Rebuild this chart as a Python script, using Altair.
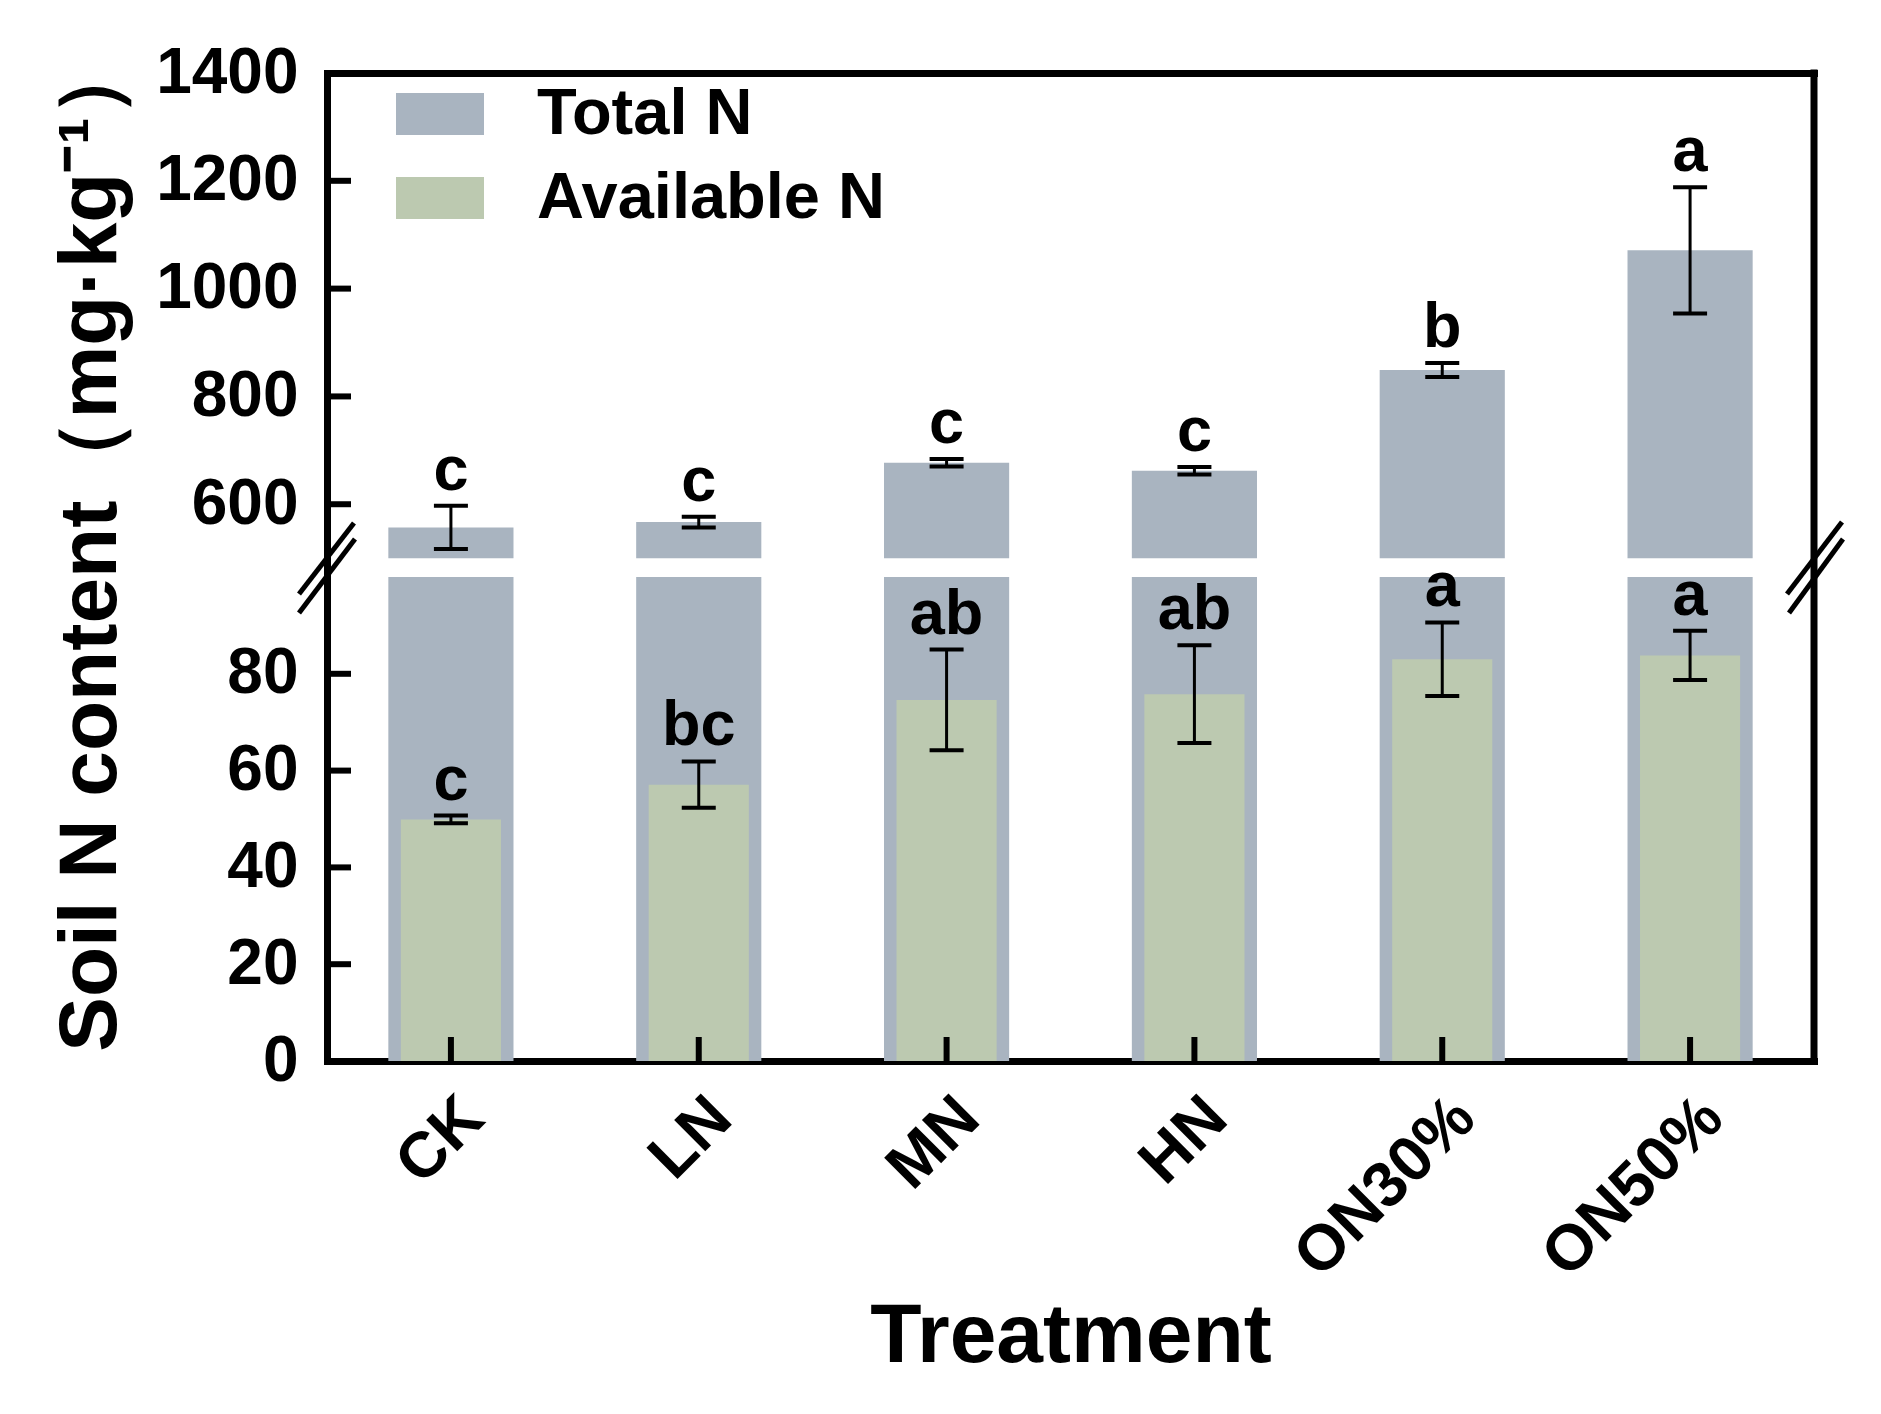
import altair as alt
import pandas as pd

# ---------------- data ----------------
treatments = ["CK", "LN", "MN", "HN", "ON30%", "ON50%"]
total_n = [557, 567, 677, 662, 849, 1071]
total_err = [40, 10, 7, 7, 13, 117]
total_letters = ["c", "c", "c", "c", "b", "a"]
avail_n = [49.9, 57.1, 74.6, 75.8, 83.0, 83.8]
avail_err = [0.8, 4.8, 10.4, 10.1, 7.6, 5.1]
avail_letters = ["c", "bc", "ab", "ab", "a", "a"]
upper_ticks = [600, 800, 1000, 1200, 1400]
lower_ticks = [0, 20, 40, 60, 80]
series = ["Total N", "Available N"]
colors = ["#A9B4C0", "#BCC9B0"]

df = pd.DataFrame({
    "treatment": treatments,
    "total": total_n,
    "total_lo": [v - e for v, e in zip(total_n, total_err)],
    "total_hi": [v + e for v, e in zip(total_n, total_err)],
    "total_letter": total_letters,
    "avail": avail_n,
    "avail_lo": [v - e for v, e in zip(avail_n, avail_err)],
    "avail_hi": [v + e for v, e in zip(avail_n, avail_err)],
    "avail_letter": avail_letters,
    "series": ["Total N"] * len(treatments),
})
up_ticks_df = pd.DataFrame({"v": upper_ticks})
lo_ticks_df = pd.DataFrame({"v": lower_ticks})

# ---------------- layout constants ----------------
W = 1487
HU = 504
HL = 484
FONT = "Liberation Sans, Arial, Helvetica, sans-serif"
FRAME = 7
TICKLEN = 24

xscale = alt.Scale(domain=treatments, paddingInner=0, paddingOuter=0)
yu_scale = alt.Scale(domain=[465, 1400], nice=False, zero=False)
yl_scale = alt.Scale(domain=[0, 100], nice=False)

one = alt.Data(values=[{}])


def xs():
    return alt.X("treatment:N", scale=xscale, sort=treatments)


# ---------------- upper panel ----------------
base_u = alt.Chart(df)

x_top = alt.X("treatment:N", scale=xscale, sort=treatments,
              axis=alt.Axis(orient="top", labels=False, ticks=False, title=None,
                            domainWidth=FRAME, domainColor="black", domainCap="square",
                            grid=False))

upper_bars = base_u.mark_bar(width=alt.RelativeBandSize(0.505)).encode(
    x=x_top,
    y=alt.Y("total:Q", scale=yu_scale,
            axis=alt.Axis(values=upper_ticks, format="d", ticks=False, grid=False,
                          domainWidth=FRAME, domainColor="black", domainCap="square",
                          labelFontSize=64, labelFont=FONT, labelFontWeight="bold",
                          labelColor="black", labelPadding=29,
                          title="Soil N content（mg·kg⁻¹）",
                          titleFontSize=82, titleFont=FONT, titleFontWeight="bold",
                          titleColor="black", titleAngle=270, titleAlign="center",
                          titleBaseline="alphabetic", titleX=-212, titleY=470)),
    y2=alt.datum(500),
    color=alt.Color("series:N",
                    scale=alt.Scale(domain=series, range=colors),
                    legend=alt.Legend(orient="none", legendX=69, legendY=-3,
                                      title=None, padding=0,
                                      symbolType="M-1,-0.477H1V0.477H-1Z",
                                      symbolSize=7744, symbolStrokeWidth=0,
                                      symbolOpacity=1,
                                      labelFontSize=65, labelFont=FONT,
                                      labelFontWeight="bold", labelColor="black",
                                      labelOffset=53, rowPadding=7, labelLimit=0)),
)

upper_err = base_u.mark_rule(strokeWidth=3, color="black").encode(
    x=xs(), y=alt.Y("total_lo:Q", scale=yu_scale), y2="total_hi:Q",
)
upper_cap_hi = base_u.mark_tick(thickness=4, size=34, color="black", opacity=1).encode(
    x=xs(), y=alt.Y("total_hi:Q", scale=yu_scale),
)
upper_cap_lo = base_u.mark_tick(thickness=4, size=34, color="black", opacity=1).encode(
    x=xs(), y=alt.Y("total_lo:Q", scale=yu_scale),
)
upper_text = base_u.mark_text(fontSize=63, font=FONT, fontWeight="bold", color="black",
                              baseline="alphabetic", dy=-16).encode(
    x=xs(), y=alt.Y("total_hi:Q", scale=yu_scale), text="total_letter:N",
)
upper_yticks = alt.Chart(up_ticks_df).mark_rule(strokeWidth=6, color="black").encode(
    y=alt.Y("v:Q", scale=yu_scale),
    x=alt.value(0), x2=alt.value(TICKLEN),
)
upper_right = alt.Chart(one).mark_rule(strokeWidth=FRAME, color="black").encode(
    x=alt.value(W), y=alt.value(-FRAME / 2), y2=alt.value(HU),
)

upper = alt.layer(upper_bars, upper_err, upper_cap_hi, upper_cap_lo, upper_text,
                  upper_yticks, upper_right).properties(width=W, height=HU)

# ---------------- lower panel ----------------
base_l = alt.Chart(df)

x_bot = alt.X("treatment:N", scale=xscale, sort=treatments,
              axis=alt.Axis(orient="bottom", ticks=False, grid=False,
                            domainWidth=FRAME, domainColor="black", domainCap="square",
                            labelAngle=315, labelAlign="right", labelBaseline="top",
                            labelPadding=24, labelFontSize=64, labelFont=FONT,
                            labelFontWeight="bold", labelColor="black", labelLimit=0,
                            title="Treatment", titleFontSize=84, titleFont=FONT,
                            titleFontWeight="bold", titleColor="black",
                            titlePadding=34))

lower_grey = base_l.mark_bar(width=alt.RelativeBandSize(0.505), clip=True,
                             color=colors[0]).encode(
    x=x_bot,
    y=alt.Y("total:Q", scale=yl_scale,
            axis=alt.Axis(values=lower_ticks, format="d", ticks=False, grid=False,
                          domainWidth=FRAME, domainColor="black", domainCap="square",
                          labelFontSize=64, labelFont=FONT, labelFontWeight="bold",
                          labelColor="black", labelPadding=29, title=None)),
)
lower_green = base_l.mark_bar(width=alt.RelativeBandSize(0.404), color=colors[1]).encode(
    x=xs(), y=alt.Y("avail:Q", scale=yl_scale),
)
lower_err = base_l.mark_rule(strokeWidth=3, color="black").encode(
    x=xs(), y=alt.Y("avail_lo:Q", scale=yl_scale), y2="avail_hi:Q",
)
lower_cap_hi = base_l.mark_tick(thickness=4, size=34, color="black", opacity=1).encode(
    x=xs(), y=alt.Y("avail_hi:Q", scale=yl_scale),
)
lower_cap_lo = base_l.mark_tick(thickness=4, size=34, color="black", opacity=1).encode(
    x=xs(), y=alt.Y("avail_lo:Q", scale=yl_scale),
)
lower_text = base_l.mark_text(fontSize=63, font=FONT, fontWeight="bold", color="black",
                              baseline="alphabetic", dy=-16).encode(
    x=xs(), y=alt.Y("avail_hi:Q", scale=yl_scale), text="avail_letter:N",
)
lower_yticks = alt.Chart(lo_ticks_df).mark_rule(strokeWidth=6, color="black").encode(
    y=alt.Y("v:Q", scale=yl_scale),
    x=alt.value(0), x2=alt.value(TICKLEN),
)
lower_xticks = base_l.mark_rule(strokeWidth=6, color="black").encode(
    x=xs(), y=alt.value(HL), y2=alt.value(HL - TICKLEN),
)
lower_right = alt.Chart(one).mark_rule(strokeWidth=FRAME, color="black").encode(
    x=alt.value(W), y=alt.value(0), y2=alt.value(HL + FRAME / 2),
)


# axis-break marks (double slashes) on left and right frame lines
def slash(x1, y1, x2, y2):
    return alt.Chart(one).mark_rule(strokeWidth=5, color="black").encode(
        x=alt.value(x1), y=alt.value(y1), x2=alt.value(x2), y2=alt.value(y2))


breaks = [
    slash(-28, 17, 27, -54), slash(-28, 36, 28, -38),
    slash(W - 27, 17, W + 28, -55), slash(W - 25, 36, W + 29, -38),
]

lower = alt.layer(lower_grey, lower_green, lower_err, lower_cap_hi, lower_cap_lo,
                  lower_text, lower_yticks, lower_xticks, lower_right,
                  *breaks).properties(width=W, height=HL)

chart = alt.vconcat(upper, lower, spacing=0, bounds="flush").resolve_scale(
    y="independent", color="independent"
).configure_view(stroke=None).properties(
    padding={"left": 40, "top": 26, "right": 20, "bottom": 60},
    background="white",
)

chart.save("out.html", embed_options={"renderer": "svg", "actions": False})
